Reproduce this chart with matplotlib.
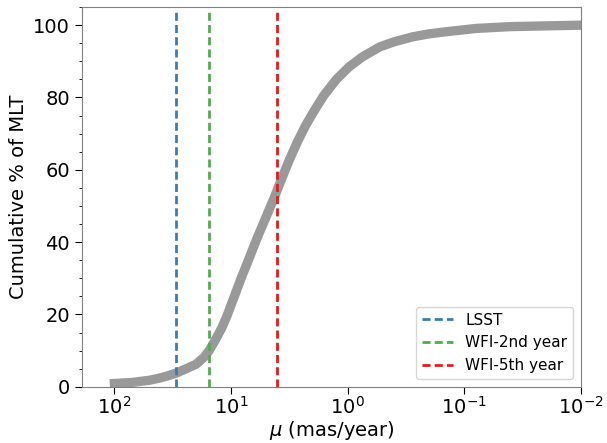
import numpy as np
import matplotlib
matplotlib.use("Agg")
import matplotlib.pyplot as plt
from matplotlib.ticker import MultipleLocator, NullLocator

# proper motion (mas/year) vs cumulative % of MLT
mu = [100, 70, 50, 41, 35, 29.4, 25, 20, 17, 15.4, 13.5, 12, 10.9, 9.5, 8.2,
      7, 6, 5, 4.24, 3.6, 3.15, 2.7, 2.3, 1.99, 1.6, 1.25, 0.97, 0.75, 0.53,
      0.4, 0.275, 0.2, 0.142, 0.079, 0.04, 0.01]
cum = [0.9, 1.2, 1.8, 2.4, 3.0, 3.8, 4.8, 6.2, 8.2, 10.0, 13.2, 16.3, 19.4,
       24.5, 30.0, 35.5, 41.0, 47.0, 52.5, 58.3, 62.9, 67.7, 72.2, 75.7, 80.6,
       85.0, 88.5, 91.2, 94.0, 95.4, 96.8, 97.6, 98.2, 99.1, 99.6, 100.0]

# survey limits
limit_names = ["LSST", "WFI-2nd year", "WFI-5th year"]
limit_mu = [29.4, 15.5, 4.0]
limit_colors = ["#377eb8", "#4daf4a", "#e41a1c"]

fig = plt.figure(figsize=(6.07, 4.43), dpi=100)
ax = fig.add_axes([0.135, 0.127, 0.822, 0.857])

ax.plot(mu, cum, color="gray", alpha=0.8, lw=6.7, solid_joinstyle="round")
for name, m, c in zip(limit_names, limit_mu, limit_colors):
    ax.axvline(m, ymin=0, ymax=0.987, color=c, ls=(0, (2.9, 1.5)), lw=2,
               label=name)

ax.set_xscale("log")
ax.set_xlim(190, 0.01)
ax.set_ylim(0, 105)
ax.xaxis.set_minor_locator(NullLocator())
ax.yaxis.set_minor_locator(MultipleLocator(5))

ax.set_xlabel(r"$\mu$ (mas/year)", fontsize=14, labelpad=1)
ax.set_ylabel("Cumulative % of MLT", fontsize=14)
ax.tick_params(which="major", labelsize=14, length=5)
ax.tick_params(axis="x", which="major", pad=1.5)
ax.tick_params(which="minor", length=2)
for s in ax.spines.values():
    s.set_color("#808080")

ax.legend(loc="lower right", fontsize=11)

fig.savefig("out.png", dpi=100)
